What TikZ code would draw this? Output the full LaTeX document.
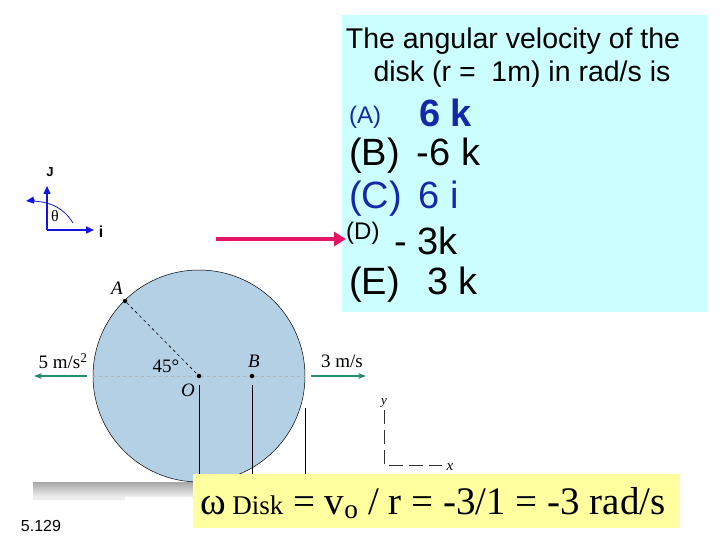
\documentclass[tikz,border=0pt]{standalone}
\usepackage{fontspec}
\setmainfont{Liberation Sans}
\newfontfamily\tnr{Liberation Serif}
\usetikzlibrary{arrows.meta}
\definecolor{boxcyan}{RGB}{204,255,255}
\definecolor{disk}{RGB}{180,208,228}
\definecolor{ansblue}{RGB}{20,40,170}
\definecolor{green1}{RGB}{40,140,110}
\definecolor{mag}{RGB}{230,20,100}
\definecolor{yel}{RGB}{255,255,160}
\definecolor{axblue}{RGB}{20,20,220}
\begin{document}
\begin{tikzpicture}[x=1pt,y=-1pt,
  ans/.style={anchor=west,inner sep=0pt,font=\fontsize{38}{38}\selectfont},
  sml/.style={anchor=west,inner sep=0pt,font=\fontsize{24}{24}\selectfont},
  lbl/.style={inner sep=0pt,font=\tnr\fontsize{19}{19}\selectfont},
  dot/.style={circle,fill=black,inner sep=0pt,minimum size=4.5pt},
  garr/.style={green1,line width=1.2pt,-{Stealth[length=8pt,width=6pt]}},
  ax/.style={axblue,line width=1.5pt,-{Triangle[length=8pt,width=7pt]}}]
\useasboundingbox (0,0) rectangle (720,540);
% answer box
\node[fill=boxcyan,minimum width=366pt,minimum height=297pt,inner sep=0pt,anchor=north west] (box) at (342,15) {};
\node[inner sep=0pt,font=\fontsize{28.5}{28.5}\selectfont] (t1) at (513,41) {The angular velocity of the};
\node[inner sep=0pt,font=\fontsize{28.5}{28.5}\selectfont] (t2) at (522,74) {disk (r = \ 1m) in rad/s is};
\node[sml,text=ansblue] (a) at (349,117) {(A)};
\node[ans,text=ansblue,font=\bfseries\fontsize{38}{38}\selectfont] (a2) at (419,113) {6 k};
\node[ans] (b) at (349,156) {(B) \,-6 k};
\node[ans,text=ansblue] (c) at (349,199) {(C) \,6 i};
\node[sml] (d) at (346,233) {(D)};
\node[ans] (d2) at (394,241) {- 3k};
\node[ans] (e) at (349,285) {(E) \ \,3 k};
% magenta arrow
\coordinate (m0) at (216,239);
\coordinate (m1) at (346,239);
\draw[mag,line width=4pt,-{Triangle[length=12pt,width=14pt]}] (m0) -- (m1);
% small axes
\coordinate (o) at (47,230);
\coordinate (jt) at (47,186);
\coordinate (it) at (94,230);
\coordinate (th) at (26,201);
\draw[ax] (o) -- (jt);
\draw[ax] (o) -- (it);
\draw[axblue,line width=0.8pt] (73,223) .. controls (62,205) and (45,201) .. (30,201);
\draw[axblue,-{Triangle[length=8pt,width=7pt]},line width=1pt] (35,200) -- (th);
\node[font=\bfseries\fontsize{13}{13}\selectfont] (J) at (50,172) {J};
\node[font=\bfseries\fontsize{16}{16}\selectfont] (I) at (101,232) {i};
\node[inner sep=0pt,font=\tnr\fontsize{16}{16}\selectfont] (theta) at (55,216) {θ};
% ground
\shade[top color=gray!70,bottom color=gray!15] (33,482) rectangle (200,496);
\fill[gray!15] (33,496) rectangle (125,500);
% disk
\node[circle,draw=black,line width=0.5pt,fill=disk,minimum size=212pt,inner sep=0pt] (disk) at (199,376) {};
\draw[gray!60,dashed,line width=0.4pt] (93,376) -- (305,376);
\node[dot] (O) at (199,376) {};
\node[dot] (B) at (252,376) {};
\node[dot] (A) at (125,301) {};
\draw[dashed,line width=0.6pt] (A) -- (O);
\draw[line width=0.6pt] (199,385) -- (199,474) (252,385) -- (252,474) (305,408) -- (305,474);
\node[lbl,font=\tnr\itshape\fontsize{19}{19}\selectfont] (Al) at (117,288) {A};
\node[lbl,font=\tnr\itshape\fontsize{19}{19}\selectfont] (Bl) at (254,361) {B};
\node[lbl,font=\tnr\itshape\fontsize{19}{19}\selectfont] (Ol) at (188,390) {O};
\node[lbl] (ang) at (166,366) {45°};
\node[lbl] (l5) at (63,361) {5 m/s\textsuperscript{2}};
\node[lbl] (l3) at (342,361) {3 m/s};
\coordinate (g1) at (87,376); \coordinate (g2) at (34,376);
\coordinate (g3) at (311,376); \coordinate (g4) at (366,376);
\draw[garr] (g1) -- (g2);
\draw[garr] (g3) -- (g4);
% xy axes
\coordinate (yo) at (384,465);
\draw[gray!40!black,dashed,dash pattern=on 14pt off 6pt,line width=0.5pt] (384,410) -- (yo) -- (442,465);
\node[inner sep=0pt,font=\tnr\itshape\fontsize{13}{13}\selectfont] (yl) at (384,403) {y};
\node[inner sep=0pt,font=\tnr\itshape\fontsize{15}{15}\selectfont] (xl) at (450,467) {x};
% yellow box
\node[fill=yel,minimum width=487pt,minimum height=54pt,inner sep=0pt,anchor=north west] (ybox) at (193,474) {};
\node[inner sep=0pt,font=\tnr\fontsize{39}{39}\selectfont,anchor=west] (eq) at (200,503) {ω\,{\fontsize{27}{27}\selectfont Disk} = v\textsubscript{o} / r = -3/1 = -3 rad/s};
\node[inner sep=0pt,font=\fontsize{16}{16}\selectfont] (num) at (41,526) {5.129};
\end{tikzpicture}
\end{document}
